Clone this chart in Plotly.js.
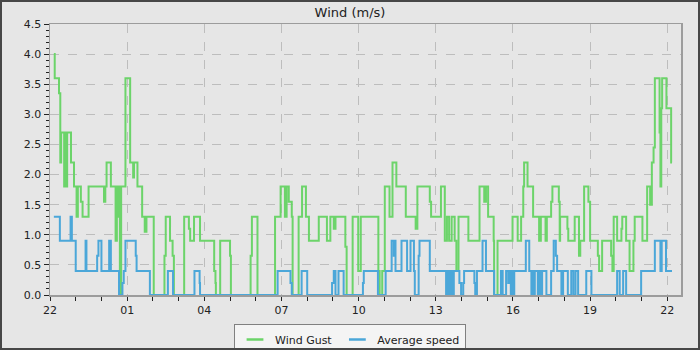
<!DOCTYPE html>
<html>
<head>
<meta charset="utf-8">
<script src="https://cdn.plot.ly/plotly-3.0.1.min.js"></script>
<style>
  html, body { margin: 0; padding: 0; background: #e6e6e6; }
  #frame { width: 700px; height: 350px; box-sizing: border-box; border: 2px solid #474747; background: #e6e6e6; overflow: hidden; }
  #chart { width: 696px; height: 346px; }
</style>
</head>
<body>
<div id="frame"><div id="chart"></div></div>
<script>
// ---- data (clock times, day rolls over when the clock goes backwards) ----
const startDay = '2024-01-01';

const gustTimes = ['22:09','22:11','22:21','22:24','22:26','22:33','22:35','22:37','22:40','22:49',
  '22:56','23:02','23:05','23:12','23:16','23:30','00:06','00:09','00:12','00:22',
  '00:33','00:36','00:40','00:42','00:43','00:46','00:56','01:07','01:14','01:16',
  '01:24','01:35','01:41','01:45','02:02','02:27','02:30','02:40','02:46','02:49',
  '03:13','03:24','03:27','03:36','03:50','04:23','04:26','04:27','04:37','05:00',
  '05:02','05:48','05:51','06:04','06:45','06:58','07:08','07:12','07:17','07:24',
  '07:26','07:40','07:48','07:57','08:04','08:27','08:46','08:54','09:02','09:06',
  '09:29','09:32','09:46','09:59','10:05','10:46','10:49','10:55','11:01','11:12',
  '11:19','11:28','11:50','12:13','12:17','12:46','12:49','13:12','13:21','13:26',
  '13:31','13:37','13:44','13:48','13:53','14:16','14:42','14:53','14:57','15:02',
  '15:15','15:16','15:24','15:59','16:11','16:19','16:24','16:26','16:34','16:47',
  '17:01','17:05','17:16','17:19','17:29','17:32','17:47','17:49','17:50','18:07',
  '18:09','18:24','18:34','18:37','18:46','18:56','19:00','19:18','19:21','19:28',
  '19:49','19:52','19:55','20:03','20:13','20:15','20:24','20:32','20:41','20:44',
  '21:02','21:13','21:20','21:24','21:28','21:31','21:42','21:44','21:46','21:48',
  '21:58','22:09','22:11'];
const gustValues = [4.0,3.6,3.35,2.2,2.7,1.8,2.7,1.8,2.7,2.2,
  1.8,1.3,1.8,1.55,1.3,1.8,1.55,1.8,2.2,1.8,
  0.9,1.8,1.3,1.8,0,1.8,3.6,2.2,1.95,2.2,
  1.8,1.3,1.05,1.3,0,0.65,1.3,0.9,0.65,0,
  1.3,1.1,0.9,1.3,0.9,0.4,0.2,0,0.9,0.65,
  0,0.65,1.3,0,1.3,1.8,1.3,1.8,1.55,1.3,
  0,1.3,1.8,1.3,0.9,1.3,0.9,1.3,1.1,1.3,
  0.8,0,1.3,0.4,1.3,0.4,0,0.4,1.8,1.3,
  2.2,1.8,1.3,1.1,1.8,1.55,1.3,1.8,0.9,1.3,
  0.9,1.3,0.9,0.4,1.3,0.9,1.8,1.55,1.8,1.3,
  0.9,0,0.9,1.3,0.9,1.3,1.8,2.2,1.8,1.3,
  0.9,1.3,0.9,1.3,1.55,1.8,1.55,0.9,1.3,1.1,
  0.9,1.3,0.65,0.9,1.8,1.55,0.9,0.65,0.4,0.9,
  0.65,0.4,1.3,0.9,1.1,1.3,0.9,0.4,0.9,1.3,
  0.9,1.8,1.5,2.2,2.45,3.6,2.7,1.8,3.1,3.6,
  3.1,2.2,2.2];

const avgTimes = ['22:09','22:23','22:48','22:51','23:00','23:23','23:25','23:50','23:53','00:00',
  '00:18','00:22','00:41','00:49','00:52','00:56','01:20','01:22','01:53','02:35',
  '02:47','03:37','03:49','03:50','06:51','07:21','07:24','07:47','08:00','08:58',
  '09:02','09:06','09:13','09:25','10:10','10:12','10:45','11:03','11:17','11:22',
  '11:24','11:26','11:40','11:53','12:01','12:09','12:11','12:20','12:22','12:46',
  '13:24','13:27','13:31','13:35','13:38','13:42','13:55','13:59','14:04','14:06',
  '14:30','14:32','14:36','14:49','14:57','15:16','15:32','15:36','15:44','15:49',
  '15:51','15:55','15:58','16:01','16:03','16:30','16:38','16:43','16:46','16:49',
  '16:51','16:58','17:02','17:06','17:08','17:18','17:29','17:35','17:40','17:43',
  '17:53','17:57','18:08','18:16','18:21','18:26','18:32','18:51','19:03','20:03',
  '20:09','20:17','20:24','20:59','21:31','21:44','21:47','21:57','22:11'];
const avgValues = [1.3,0.9,1.3,0.9,0.4,0.9,0.4,0.65,0.9,0.4,
  0.9,0.4,0,0.2,0.4,0.9,0.65,0.4,0,0.4,
  0,0.4,0.2,0,0.4,0.2,0,0.4,0,0.2,
  0.4,0,0.4,0,0.2,0.4,0,0.4,0.9,0.65,
  0.9,0.4,0.9,0.4,0.9,0.4,0,0.65,0.9,0.4,
  0,0.4,0,0.4,0,0.4,0.2,0,0.2,0.4,
  0.2,0,0.4,0.9,0.4,0,0.4,0,0.4,0.2,
  0.4,0,0.4,0,0.4,0.9,0.4,0,0.4,0,
  0.4,0,0.4,0,0.4,0,0.4,0.9,0.65,0.4,
  0,0.4,0,0.4,0,0.4,0,0.4,0,0.4,
  0,0.4,0,0.4,0.9,0.4,0.9,0.4,0.4];

const seriesNames = ['Wind Gust', 'Average speed'];
const axisRange = ['2024-01-01 22:00', '2024-01-02 22:32'];

// ---- helpers ----
function toStamps(times) {
  let day = 0, prev = -1;
  const [Y, M, D] = startDay.split('-').map(Number);
  return times.map(t => {
    const [h, m] = t.split(':').map(Number);
    const mins = h * 60 + m;
    if (prev >= 0 && mins < prev) day++;
    prev = mins;
    const d = new Date(Date.UTC(Y, M - 1, D + day, h, m));
    return d.toISOString().slice(0, 16).replace('T', ' ');
  });
}

const GREEN = '#6cd46a';
const BLUE = '#4ba7d9';

const traces = [
  { x: toStamps(gustTimes), y: gustValues, type: 'scatter', mode: 'lines',
    line: { shape: 'hv', color: GREEN, width: 2 }, showlegend: false, hoverinfo: 'skip' },
  { x: toStamps(avgTimes), y: avgValues, type: 'scatter', mode: 'lines',
    line: { shape: 'hv', color: BLUE, width: 2 }, showlegend: false, hoverinfo: 'skip' },
  // legend entries (short line keys)
  { x: [null], y: [null], type: 'scatter', mode: 'markers', name: seriesNames[0],
    marker: { symbol: 'line-ew', size: 12, color: GREEN, line: { color: GREEN, width: 2.5 } } },
  { x: [null], y: [null], type: 'scatter', mode: 'markers', name: seriesNames[1],
    marker: { symbol: 'line-ew', size: 12, color: BLUE, line: { color: BLUE, width: 2.5 } } }
];

const layout = {
  width: 696, height: 346,
  margin: { l: 48, r: 17, t: 22, b: 53, pad: 0 },
  paper_bgcolor: '#e6e6e6',
  plot_bgcolor: '#e6e6e6',
  font: { family: 'DejaVu Sans, sans-serif', size: 11, color: '#222' },
  title: { text: 'Wind (m/s)', font: { size: 13, color: '#222' },
           x: 0.5, xref: 'container', xanchor: 'center',
           y: 1 - 10 / 346, yref: 'container', yanchor: 'middle' },
  xaxis: {
    type: 'date', range: axisRange, tick0: '2024-01-01 22:00', dtick: 3 * 3600000,
    tickformat: '%H', ticks: 'outside', ticklen: 4, tickwidth: 1, tickcolor: '#222',
    showline: true, linecolor: '#9c9c9c', linewidth: 1.5, mirror: true,
    showgrid: true, gridcolor: '#bdbdbd', griddash: 'dash', gridwidth: 1,
    zeroline: false,
    minor: { dtick: 3600000, ticklen: 4, tickcolor: '#222', showgrid: false }
  },
  yaxis: {
    range: [0, 4.5], dtick: 0.5, tick0: 0, tickformat: '.1f',
    ticks: 'outside', ticklen: 5, tickwidth: 1, tickcolor: '#222',
    showline: true, linecolor: '#9c9c9c', linewidth: 1.5, mirror: true,
    showgrid: true, gridcolor: '#bdbdbd', griddash: 'dash', gridwidth: 1,
    zeroline: false,
    minor: { dtick: 0.1, ticklen: 3, tickcolor: '#222', showgrid: false }
  },
  showlegend: true,
  legend: {
    orientation: 'h', xref: 'container', x: 0.5, xanchor: 'center',
    yref: 'container', y: (346 - 322) / 346, yanchor: 'top',
    bgcolor: '#f4f4f4', bordercolor: '#808080', borderwidth: 1,
    font: { size: 11, color: '#222' }, itemclick: false
  }
};

Plotly.newPlot('chart', traces, layout, { staticPlot: true, displayModeBar: false });
</script>
</body>
</html>
